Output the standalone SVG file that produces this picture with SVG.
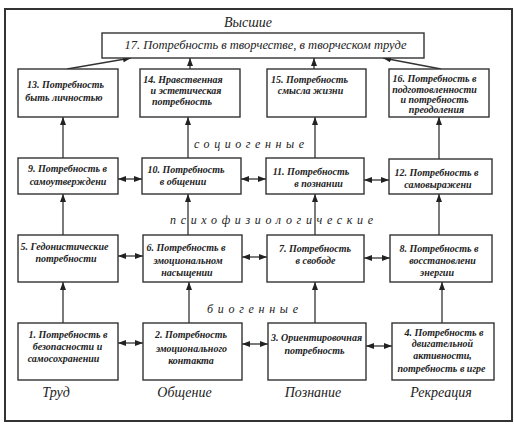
<svg xmlns="http://www.w3.org/2000/svg" width="514" height="426" viewBox="0 0 514 426">
<defs>
<style>
.frame{fill:#fff;stroke:#333;stroke-width:2}
.box{fill:#fff;stroke:#333;stroke-width:1.4}
.t{font-family:"Liberation Serif","Times New Roman",serif;font-style:italic;font-weight:bold;font-size:10px;fill:#222;text-anchor:middle}
.big{font-family:"Liberation Serif","Times New Roman",serif;font-style:italic;font-size:12.5px;fill:#222;text-anchor:middle}
.lab{font-family:"Liberation Serif","Times New Roman",serif;font-style:italic;font-size:14px;fill:#222;text-anchor:middle}
.sp{font-family:"Liberation Serif","Times New Roman",serif;font-style:italic;font-size:12px;fill:#222}
.c{stroke:#333;stroke-width:1.3;fill:none}
.a{marker-end:url(#ah)}
.d{marker-start:url(#ah);marker-end:url(#ah)}
</style>
<marker id="ah" viewBox="0 0 8 6" refX="8" refY="3" markerWidth="8" markerHeight="6" markerUnits="userSpaceOnUse" orient="auto-start-reverse">
<path d="M0,0 L8,3 L0,6 Z" fill="#222"/>
</marker>
</defs>
<rect x="0" y="0" width="514" height="426" fill="#fff"/>
<rect class="frame" x="5" y="9" width="507" height="412"/>

<text class="lab" x="248" y="27">Высшие</text>
<text class="sp" x="194" y="148" textLength="110" lengthAdjust="spacing">социогенные</text>
<text class="sp" x="170" y="224" textLength="203" lengthAdjust="spacing">психофизиологические</text>
<text class="sp" x="207" y="313" textLength="91" lengthAdjust="spacing">биогенные</text>
<text class="lab" x="56" y="397">Труд</text>
<text class="lab" x="184.5" y="397">Общение</text>
<text class="lab" x="313" y="397">Познание</text>
<text class="lab" x="441" y="397">Рекреация</text>

<g id="connectors">
<line class="c a" x1="67" y1="69" x2="131" y2="58"/>
<line class="c a" x1="190" y1="69" x2="190" y2="58"/>
<line class="c a" x1="314" y1="69" x2="314" y2="58"/>
<line class="c a" x1="441" y1="69" x2="383" y2="58"/>
<line class="c a" x1="63" y1="158" x2="63" y2="117"/>
<line class="c a" x1="188" y1="158" x2="188" y2="117"/>
<line class="c a" x1="315" y1="158" x2="315" y2="117"/>
<line class="c a" x1="439" y1="159" x2="439" y2="117"/>
<line class="c a" x1="63" y1="235" x2="63" y2="194"/>
<line class="c a" x1="188" y1="235" x2="188" y2="194"/>
<line class="c a" x1="315" y1="235" x2="315" y2="194"/>
<line class="c a" x1="439" y1="235" x2="439" y2="194"/>
<line class="c a" x1="63" y1="323" x2="63" y2="282"/>
<line class="c a" x1="189" y1="323" x2="189" y2="282"/>
<line class="c a" x1="315" y1="323" x2="315" y2="282"/>
<line class="c a" x1="442" y1="323" x2="442" y2="282"/>
<line class="c d" x1="118" y1="179" x2="142" y2="179"/>
<line class="c d" x1="241" y1="179" x2="266" y2="179"/>
<line class="c d" x1="364" y1="180" x2="389" y2="180"/>
<line class="c d" x1="118" y1="256" x2="143" y2="256"/>
<line class="c d" x1="242" y1="257" x2="267" y2="257"/>
<line class="c d" x1="364" y1="258" x2="390" y2="258"/>
<line class="c d" x1="118" y1="343" x2="143" y2="343"/>
<line class="c d" x1="242" y1="344" x2="268" y2="344"/>
<line class="c d" x1="366" y1="346" x2="392" y2="346"/>
</g>

<g id="n17"><rect class="box" x="102" y="33" width="322" height="25"/><text class="big" x="265.5" y="49">17. Потребность в творчестве, в творческом труде</text></g>

<g id="n13"><rect class="box" x="18" y="69" width="100" height="48"/>
<text class="t" x="65.5" y="88">13. Потребность</text><text class="t" x="64" y="101">быть личностью</text></g>
<g id="n14"><rect class="box" x="140" y="69" width="100" height="48"/>
<text class="t" x="183" y="83">14. Нравственная</text><text class="t" x="186" y="94">и эстетическая</text><text class="t" x="182" y="105">потребность</text></g>
<g id="n15"><rect class="box" x="267" y="69" width="99" height="48"/>
<text class="t" x="309.5" y="83">15. Потребность</text><text class="t" x="310.5" y="94">смысла жизни</text></g>
<g id="n16"><rect class="box" x="389" y="69" width="100" height="48"/>
<text class="t" x="434.5" y="82">16. Потребность в</text><text class="t" x="434.5" y="92.5">подготовленности</text><text class="t" x="434.5" y="102.5">и потребность</text><text class="t" x="436.5" y="112.5">преодоления</text></g>

<g id="n9"><rect class="box" x="18" y="158" width="100" height="36"/>
<text class="t" x="67.5" y="172">9. Потребность в</text><text class="t" x="68" y="185">самоутверждени</text></g>
<g id="n10"><rect class="box" x="142" y="158" width="99" height="36"/>
<text class="t" x="186" y="172.5">10. Потребность</text><text class="t" x="183" y="185">в общении</text></g>
<g id="n11"><rect class="box" x="266" y="158" width="98" height="36"/>
<text class="t" x="311" y="175">11. Потребность</text><text class="t" x="318.5" y="187">в познании</text></g>
<g id="n12"><rect class="box" x="389" y="159" width="103" height="35"/>
<text class="t" x="436.5" y="176">12. Потребность в</text><text class="t" x="438" y="188">самовыражени</text></g>

<g id="n5"><rect class="box" x="18" y="235" width="100" height="47"/>
<text class="t" x="64.5" y="250">5. Гедонистические</text><text class="t" x="66" y="262">потребности</text></g>
<g id="n6"><rect class="box" x="143" y="235" width="99" height="47"/>
<text class="t" x="186" y="251">6. Потребность в</text><text class="t" x="188" y="264">эмоциональном</text><text class="t" x="187" y="276">насыщении</text></g>
<g id="n7"><rect class="box" x="267" y="235" width="97" height="47"/>
<text class="t" x="315" y="252">7. Потребность</text><text class="t" x="315.5" y="264">в свободе</text></g>
<g id="n8"><rect class="box" x="390" y="235" width="102" height="47"/>
<text class="t" x="439" y="252">8. Потребность в</text><text class="t" x="442.5" y="264">восстановлени</text><text class="t" x="437" y="276">энергии</text></g>

<g id="n1"><rect class="box" x="18" y="323" width="100" height="57"/>
<text class="t" x="68" y="337.5">1. Потребность в</text><text class="t" x="67.5" y="350">безопасности и</text><text class="t" x="63.5" y="362">самосохранении</text></g>
<g id="n2"><rect class="box" x="143" y="323" width="99" height="57"/>
<text class="t" x="191" y="337.5">2. Потребность</text><text class="t" x="191.5" y="352">эмоционального</text><text class="t" x="191" y="364">контакта</text></g>
<g id="n3"><rect class="box" x="268" y="323" width="98" height="57"/>
<text class="t" x="316.5" y="341">3. Ориентировочная</text><text class="t" x="314.5" y="354">потребность</text></g>
<g id="n4"><rect class="box" x="392" y="323" width="102" height="57"/>
<text class="t" x="444" y="335.5">4. Потребность в</text><text class="t" x="442.5" y="346.5">двигательной</text><text class="t" x="442.5" y="359">активности,</text><text class="t" x="441.5" y="372">потребность в игре</text></g>
</svg>
